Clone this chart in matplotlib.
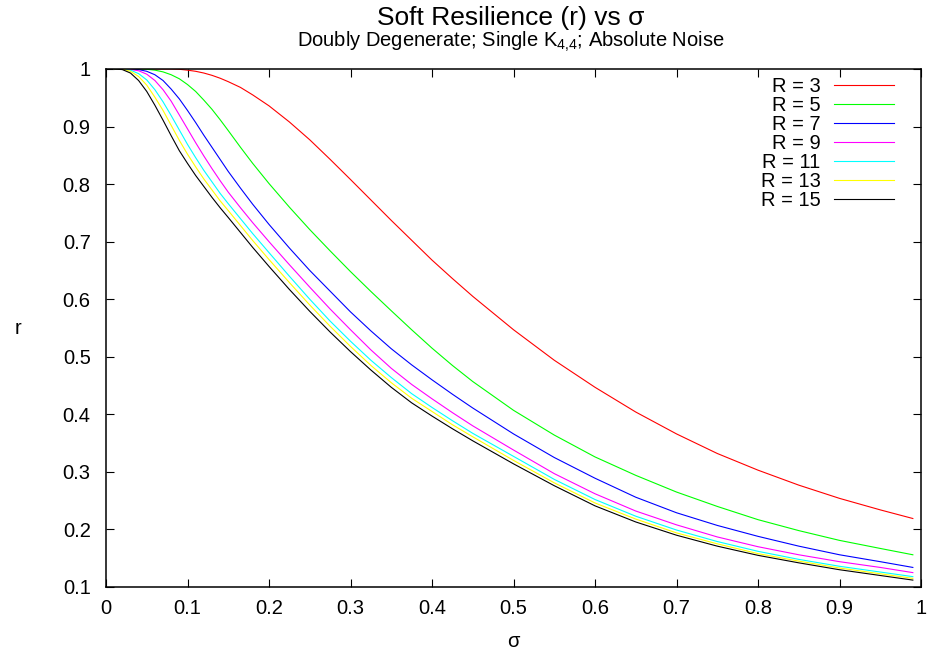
import matplotlib
matplotlib.use("Agg")
import matplotlib.pyplot as plt

plt.rcParams['font.family'] = ['Liberation Sans', 'DejaVu Sans']
plt.rcParams['mathtext.fontset'] = 'custom'
plt.rcParams['mathtext.rm'] = 'Liberation Sans'
plt.rcParams['mathtext.it'] = 'Liberation Sans:italic'

sigma = [0.01, 0.02, 0.03, 0.04, 0.05, 0.06, 0.07, 0.08, 0.09, 0.10, 0.11, 0.12,
         0.13, 0.14, 0.15, 0.165, 0.18, 0.20, 0.225, 0.25, 0.275, 0.30,
         0.325, 0.35, 0.375, 0.40, 0.425, 0.45, 0.50, 0.55, 0.60, 0.65, 0.70,
         0.75, 0.80, 0.85, 0.90, 0.95, 0.99]

r_R3 = [1.0, 1.0, 1.0, 1.0, 1.0, 1.0, 1.0, 1.0, 0.9995, 0.998, 0.996, 0.993,
        0.989, 0.984, 0.978, 0.968, 0.955, 0.936, 0.908, 0.877, 0.843, 0.808,
        0.7725, 0.737, 0.7025, 0.668, 0.636, 0.605, 0.547, 0.494, 0.447, 0.404,
        0.366, 0.332, 0.303, 0.277, 0.254, 0.234, 0.219]
r_R5 = [1.0, 1.0, 1.0, 1.0, 0.9995, 0.998, 0.995, 0.990, 0.983, 0.973, 0.961, 0.946,
        0.930, 0.912, 0.893, 0.864, 0.836, 0.801, 0.760, 0.721, 0.684, 0.648,
        0.6135, 0.580, 0.547, 0.515, 0.485, 0.457, 0.407, 0.364, 0.326, 0.294,
        0.265, 0.240, 0.217, 0.198, 0.181, 0.167, 0.156]
r_R7 = [1.0, 1.0, 1.0, 0.999, 0.996, 0.990, 0.980, 0.965, 0.948, 0.928, 0.907, 0.885,
        0.864, 0.843, 0.822, 0.793, 0.765, 0.730, 0.689, 0.650, 0.614, 0.578,
        0.545, 0.514, 0.486, 0.460, 0.435, 0.411, 0.366, 0.325, 0.289, 0.256,
        0.229, 0.207, 0.188, 0.171, 0.156, 0.144, 0.134]
r_R9 = [1.0, 1.0, 0.999, 0.997, 0.991, 0.980, 0.964, 0.944, 0.920, 0.896, 0.872, 0.849,
        0.827, 0.806, 0.786, 0.759, 0.733, 0.700, 0.660, 0.621, 0.583, 0.547,
        0.512, 0.480, 0.452, 0.427, 0.403, 0.380, 0.338, 0.297, 0.262, 0.232,
        0.208, 0.187, 0.170, 0.156, 0.144, 0.134, 0.125]
r_R11 = [1.0, 1.0, 0.998, 0.992, 0.981, 0.964, 0.943, 0.919, 0.894, 0.869, 0.846, 0.824,
         0.804, 0.784, 0.766, 0.740, 0.714, 0.681, 0.640, 0.600, 0.562, 0.527,
         0.494, 0.464, 0.436, 0.412, 0.389, 0.367, 0.327, 0.287, 0.252, 0.223,
         0.199, 0.179, 0.162, 0.148, 0.136, 0.126, 0.118]
r_R13 = [1.0, 1.0, 0.996, 0.987, 0.972, 0.951, 0.928, 0.902, 0.876, 0.852, 0.830, 0.809,
         0.790, 0.771, 0.754, 0.728, 0.702, 0.669, 0.629, 0.590, 0.553, 0.518,
         0.485, 0.455, 0.428, 0.405, 0.382, 0.361, 0.320, 0.281, 0.246, 0.218,
         0.194, 0.175, 0.158, 0.145, 0.133, 0.123, 0.115]
r_R15 = [1.0, 0.999, 0.993, 0.980, 0.961, 0.937, 0.911, 0.884, 0.858, 0.836, 0.815, 0.796,
         0.777, 0.759, 0.742, 0.716, 0.690, 0.657, 0.617, 0.579, 0.543, 0.509,
         0.477, 0.447, 0.420, 0.397, 0.375, 0.354, 0.314, 0.276, 0.241, 0.213,
         0.190, 0.171, 0.155, 0.142, 0.130, 0.120, 0.112]

labels = ["R = 3", "R = 5", "R = 7", "R = 9", "R = 11", "R = 13", "R = 15"]
series = [r_R3, r_R5, r_R7, r_R9, r_R11, r_R13, r_R15]
colors = ["#ff0000", "#00ff00", "#0000ff", "#ff00ff", "#00ffff", "#ffff00", "#000000"]

xticks = [0, 0.1, 0.2, 0.3, 0.4, 0.5, 0.6, 0.7, 0.8, 0.9, 1]
xticklabels = ["0", "0.1", "0.2", "0.3", "0.4", "0.5", "0.6", "0.7", "0.8", "0.9", "1"]
yticks = [0.1, 0.2, 0.3, 0.4, 0.5, 0.6, 0.7, 0.8, 0.9, 1]
yticklabels = ["0.1", "0.2", "0.3", "0.4", "0.5", "0.6", "0.7", "0.8", "0.9", "1"]

fig = plt.figure(figsize=(9.27, 6.54), dpi=100)
ax = fig.add_axes([106/927, 1 - 587/654, 815/927, 518/654])

for vals, c, lab in zip(series, colors, labels):
    ax.plot(sigma, vals, color=c, lw=0.8, label=lab)

ax.set_xlim(0, 1)
ax.set_ylim(0.1, 1)
ax.set_xticks(xticks)
ax.set_xticklabels(xticklabels)
ax.set_yticks(yticks)
ax.set_yticklabels(yticklabels)
ax.tick_params(axis='both', direction='in', length=6, width=0.8,
               top=True, right=True, labelsize=14.5, colors='black')
ax.tick_params(axis='x', pad=8.5)
ax.tick_params(axis='y', pad=11)
for s in ax.spines.values():
    s.set_linewidth(1.1)

ax.set_xlabel("σ", fontsize=14.5)
ax.xaxis.set_label_coords(0.5, -0.106)
ax.xaxis.label.set_va('center')
ax.set_ylabel("r", fontsize=14.5, rotation=0)
ax.yaxis.set_label_coords(-0.108, 0.5)
ax.yaxis.label.set_va('center')
ax.yaxis.label.set_ha('center')

leg = ax.legend(loc='upper right', bbox_to_anchor=(1 - 27/815, 1 - 8/518),
                frameon=False, markerfirst=False, fontsize=14.5,
                handlelength=3.0, handletextpad=0.65, labelspacing=0.0,
                borderpad=0.0, borderaxespad=0.0)

fig.text(511/927, 1 - 25/654, "Soft Resilience (r) vs σ", fontsize=19,
         ha='center', va='baseline')
fig.text(511/927, 1 - 47/654, r"Doubly Degenerate; Single K$_\mathregular{4{,}4}$; Absolute Noise",
         fontsize=14.5, ha='center', va='baseline')

fig.savefig("out.png", dpi=100)
